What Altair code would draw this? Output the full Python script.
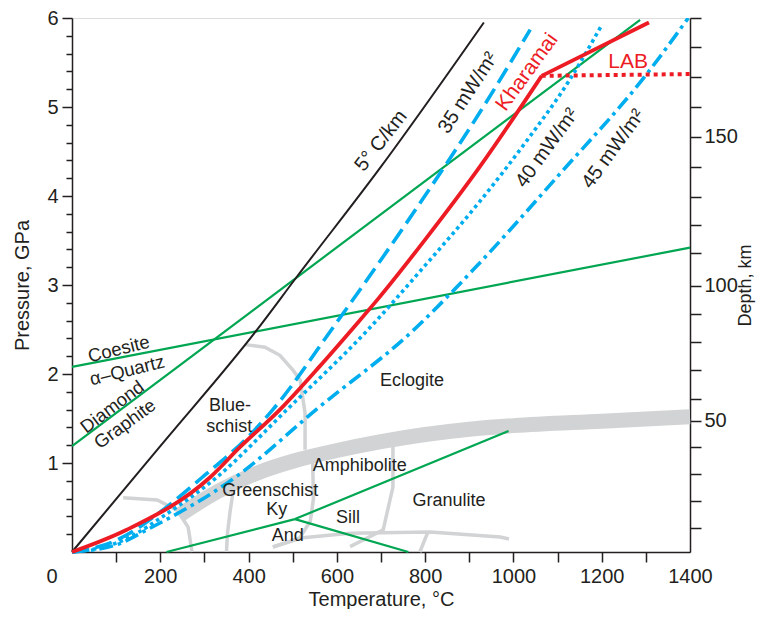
import altair as alt
import pandas as pd

# ---------------- data (T in °C, P in GPa) ----------------
geo5_T = [0, 200, 418, 509, 700, 933]
geo5_P = [0, 1.19, 2.49, 3.09, 4.33, 5.95]

kh_T = [0, 124, 313, 381, 471, 560, 641, 691, 800, 924, 1064]
kh_P = [0, 0.25, 0.84, 1.18, 1.60, 2.08, 2.54, 2.83, 3.51, 4.33, 5.35]
kh_top_T = [1064, 1307]
kh_top_P = [5.35, 5.95]

lab_T = [1064, 1400]
lab_P = [5.35, 5.37]

g35_T = [0, 100, 150, 200, 300, 400, 455, 591, 630, 780, 924, 1038]
g35_P = [0, 0.13, 0.27, 0.45, 0.86, 1.30, 1.60, 2.52, 2.79, 3.86, 4.94, 5.87]

g40_T = [0, 100, 150, 200, 328, 487, 671, 800, 924, 1030, 1128, 1200]
g40_P = [0, 0.10, 0.22, 0.38, 0.84, 1.60, 2.50, 3.22, 3.94, 4.62, 5.31, 5.92]

g45_T = [0, 100, 170, 373, 553, 773, 924, 1100, 1302, 1396]
g45_P = [0, 0.08, 0.25, 0.85, 1.60, 2.49, 3.25, 4.22, 5.37, 6.0]

# green phase-transition lines
green_lines = {
    "coesite": ([0, 1400], [2.08, 3.42]),
    "diamond": ([0, 1287], [1.19, 5.98]),
    "and_ky": ([214, 505], [0.0, 0.37]),
    "ky_sill": ([505, 989], [0.37, 1.36]),
    "and_sill": ([505, 762], [0.37, 0.0]),
}

# thick grey band (eclogite lower boundary)
band_T = [245, 330, 426, 500, 600, 700, 800, 900, 1000, 1200, 1400]
band_P = [0.42, 0.68, 0.90, 1.02, 1.14, 1.24, 1.32, 1.38, 1.42, 1.47, 1.52]

# thin grey facies boundaries
grey_lines = {
    "blueschist": ([392, 437, 471, 501, 517, 528, 528], [2.33, 2.30, 2.21, 2.04, 1.93, 1.56, 1.15]),
    "low_arc": ([116, 193, 238, 263, 272], [0.61, 0.585, 0.47, 0.28, 0.0]),
    "gs_left": ([368, 358, 352, 350], [0.78, 0.45, 0.20, 0.0]),
    "amph_left": ([545, 547, 540, 515, 455], [1.05, 0.60, 0.35, 0.15, 0.056]),
    "amph_gran": ([727, 727, 705, 630], [1.22, 0.73, 0.25, 0.06]),
    "bottom": ([455, 517, 630, 811, 970, 990], [0.056, 0.157, 0.21, 0.225, 0.169, 0.146]),
    "gran_low": ([805, 788], [0.21, 0.0]),
}

# labels: text, T, P, angle, colour, font size
labels = [
    ("5° C/km", 700, 4.62, 308, "#231f20", 20),
    ("35 mW/m²", 897, 5.16, 303, "#231f20", 20),
    ("Kharamai", 1031, 5.39, 306, "#ed1c24", 21),
    ("LAB", 1260, 5.51, 0, "#ed1c24", 21),
    ("40 mW/m²", 1076, 4.54, 306, "#231f20", 20),
    ("45 mW/m²", 1226, 4.53, 306, "#231f20", 20),
    ("Coesite", 106, 2.28, 346, "#231f20", 18.5),
    ("α–Quartz", 125, 2.04, 346, "#231f20", 18.5),
    ("Diamond", 91, 1.63, 323, "#231f20", 18.5),
    ("Graphite", 120, 1.44, 324, "#231f20", 18.5),
    ("Blue-", 358, 1.64, 0, "#231f20", 18),
    ("schist", 356, 1.40, 0, "#231f20", 18),
    ("Eclogite", 770, 1.92, 0, "#231f20", 18),
    ("Amphibolite", 652, 0.97, 0, "#231f20", 18),
    ("Greenschist", 449, 0.68, 0, "#231f20", 18),
    ("Ky", 464, 0.47, 0, "#231f20", 18),
    ("Sill", 625, 0.38, 0, "#231f20", 18),
    ("And", 489, 0.18, 0, "#231f20", 18),
    ("Granulite", 854, 0.57, 0, "#231f20", 18),
]

# axis ticks
x_ticks = list(range(100, 1401, 100))
y_major = [1, 2, 3, 4, 5, 6]
y_minor = [round(0.2 * i, 1) for i in range(1, 30) if i % 5 != 0]
depth_km = list(range(10, 191, 10))
depth_P = [0.270, 0.573, 0.876, 1.180, 1.472, 1.719, 2.045, 2.360, 2.674, 2.989,
           3.360, 3.674, 3.989, 4.326, 4.663, 5.000, 5.337, 5.674, 6.000]
depth_labelled = [50, 100, 150]

# ---------------- helpers ----------------
INK = "#231f20"
RED = "#ed1c24"
BLUE = "#00aeef"
GREEN = "#00a651"
GREY = "#d1d3d4"
FONT = "Liberation Sans"

xs = alt.Scale(domain=[0, 1400], nice=False, zero=False)
ys = alt.Scale(domain=[0, 6], nice=False, zero=False)

common_axis = dict(grid=False, labelFontSize=20, titleFontSize=20, titleFontWeight="normal",
                   labelOverlap=False, labelFlush=False, domainColor=INK,
                   domainWidth=1.5, tickWidth=1.5, labelColor=INK, titleColor=INK,
                   labelFont=FONT, titleFont=FONT)

X = alt.X("T:Q", scale=xs, title="Temperature, °C",
          axis=alt.Axis(values=x_ticks, tickSize=10, labelPadding=4, titlePadding=3,
                        labelExpr="datum.value % 200 === 0 ? datum.label : ''",
                        tickColor={"condition": {"test": "datum.value >= 1400", "value": "transparent"},
                                   "value": INK},
                        format="d", **common_axis))
Y = alt.Y("P:Q", scale=ys, title="Pressure, GPa",
          axis=alt.Axis(values=y_major, orient="left", tickSize=10, labelPadding=4,
                        titlePadding=14, format="d", tickColor=INK, **common_axis))


def lines_df(d):
    rows = []
    for k, (ts, ps) in d.items():
        for i, (t, p) in enumerate(zip(ts, ps)):
            rows.append({"id": k, "ord": i, "T": t, "P": p})
    return pd.DataFrame(rows)


def one_line(ts, ps):
    return pd.DataFrame({"T": ts, "P": ps, "ord": list(range(len(ts)))})


def draw(df, **mk):
    enc = dict(x=X, y=Y, order="ord:Q")
    if "id" in df.columns:
        enc["detail"] = "id:N"
    return alt.Chart(df).mark_line(**mk).encode(**enc)


band = draw(one_line(band_T, band_P), color=GREY, strokeWidth=15, strokeCap="butt", interpolate="monotone")
grey = draw(lines_df(grey_lines), color=GREY, strokeWidth=3.5)
green = draw(lines_df(green_lines), color=GREEN, strokeWidth=2.2)
black = draw(one_line(geo5_T, geo5_P), color=INK, strokeWidth=2, interpolate="monotone")
l35 = draw(one_line(g35_T, g35_P), color=BLUE, strokeWidth=3.6, strokeDash=[17, 7], interpolate="monotone")
l40 = draw(one_line(g40_T, g40_P), color=BLUE, strokeWidth=3.6, strokeDash=[3.5, 3.5], interpolate="monotone")
l45 = draw(one_line(g45_T, g45_P), color=BLUE, strokeWidth=3.6, strokeDash=[14, 5, 3.5, 5], interpolate="monotone")
kh = draw(one_line(kh_T, kh_P), color=RED, strokeWidth=3.8, interpolate="monotone")
kh_top = draw(one_line(kh_top_T, kh_top_P), color=RED, strokeWidth=3.8)
lab = draw(one_line(lab_T, lab_P), color=RED, strokeWidth=4, strokeDash=[4, 4])

text_layers = []
for txt, t, p, ang, col, fs in labels:
    df = pd.DataFrame({"T": [t], "P": [p], "txt": [txt]})
    text_layers.append(
        alt.Chart(df).mark_text(fontSize=fs, angle=ang, color=col,
                                font=FONT, align="center", baseline="middle")
        .encode(x=X, y=Y, text="txt:N")
    )

zero_lbl = alt.Chart(pd.DataFrame({"T": [0], "P": [0], "txt": ["0"]})).mark_text(
    fontSize=20, color=INK, font=FONT, dx=-20, dy=25, align="center", baseline="middle"
).encode(x=X, y=Y, text="txt:N")

inner = alt.layer(band, grey, green, black, l35, l40, l45, kh, kh_top, lab, *text_layers, zero_lbl)

# minor ticks of the pressure axis
minor = alt.Chart(pd.DataFrame({"P": y_minor})).mark_rule(opacity=0).encode(
    y=alt.Y("P:Q", scale=ys, title="",
            axis=alt.Axis(orient="left", values=y_minor, labels=False, domain=False, grid=False,
                          tickSize=6, tickColor=INK, tickWidth=1.5))
)

expr = "".join(
    f"datum.value === {depth_P[depth_km.index(d)]} ? '{d}' : " for d in depth_labelled
) + "''"

right = alt.Chart(pd.DataFrame({"P": depth_P})).mark_rule(opacity=0).encode(
    y=alt.Y("P:Q", scale=ys, title="Depth, km",
            axis=alt.Axis(orient="right", values=depth_P, labelExpr=expr, tickSize=11,
                          labelPadding=3, titlePadding=-1, titleAngle=270, titleBaseline="top",
                          tickColor=INK,
                          **{**common_axis, "titleFontSize": 18}))
)

chart = alt.layer(inner, minor, right).resolve_scale(y="independent").properties(
    width=618, height=534,
    padding={"left": 64, "top": 10, "right": 66, "bottom": 57},
    autosize=alt.AutoSizeParams(type="none"),
).configure_view(stroke=None).configure(font=FONT)

chart.save("out.html", embed_options={"renderer": "svg", "actions": False})
